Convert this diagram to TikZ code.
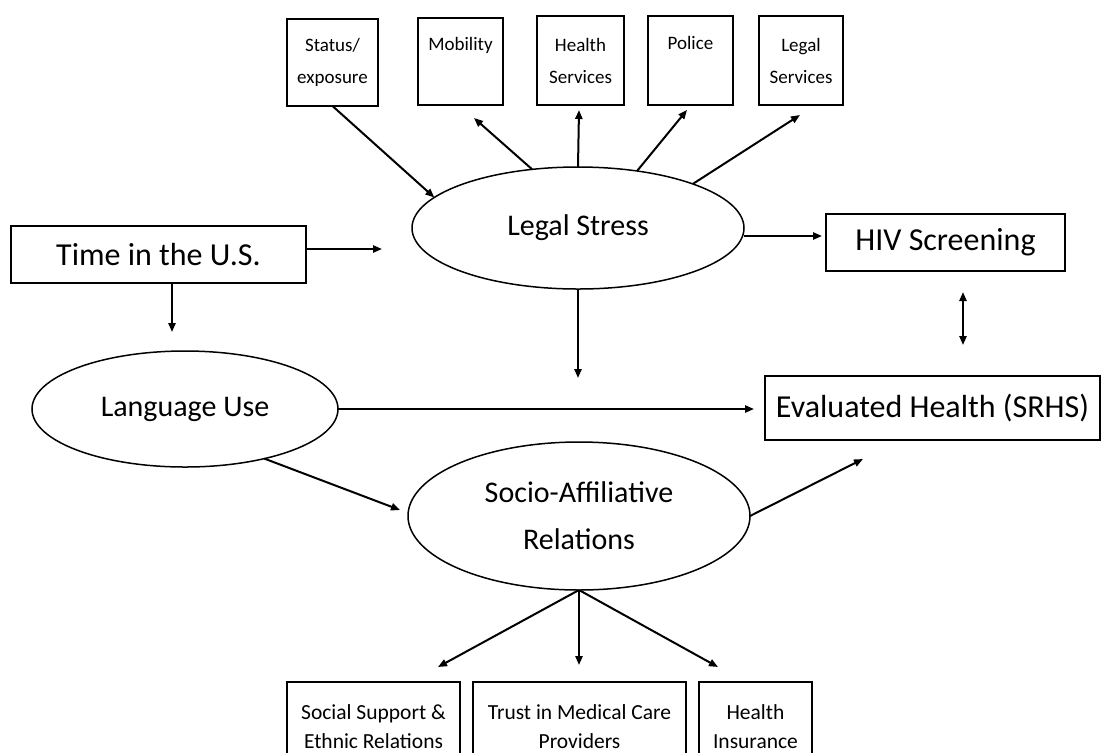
\documentclass[tikz,border=0pt]{standalone}
\usepackage{fontspec}
\setmainfont{Carlito}
\usetikzlibrary{shapes.geometric,arrows.meta,calc}
\begin{document}
\begin{tikzpicture}[x=0.5pt,y=-0.5pt,
  box/.style={draw,line width=1pt,inner sep=0pt,outer sep=0pt,align=center},
  topbox/.style={box,font=\fontsize{9.5}{16}\selectfont},
  basebox/.style={box,line width=0.7pt,font=\fontsize{10.75}{14.5}\selectfont},
  bigbox/.style={draw,line width=0.8pt,inner sep=0pt,outer sep=0pt,font=\fontsize{16}{19}\selectfont},
  oval/.style={draw,ellipse,line width=0.75pt,inner sep=0pt,outer sep=0pt,align=center,font=\fontsize{15}{23.5}\selectfont},
  tip/.style={Triangle[length=4.5pt,width=3.6pt]},
  arr/.style={line width=1pt,-{Triangle[length=4.5pt,width=3.6pt]}},
  dblarr/.style={line width=1pt,{Triangle[length=4.5pt,width=3.6pt]}-{Triangle[length=4.5pt,width=3.6pt]}},
]
\useasboundingbox (0,0) rectangle (1105,752);

% factors around legal stress
\node[topbox,minimum width=45.5pt,minimum height=43.5pt] (status) at (332.5,62.5) {Status/\\exposure};
\node[topbox,line width=0.6pt,minimum width=42.5pt,minimum height=43.5pt] (mob) at (460.5,61.5) {Mobility\\\phantom{y}};
\node[topbox,minimum width=43.5pt,minimum height=44.5pt] (hs) at (580.5,60.5) {Health\\Services};
\node[topbox,minimum width=42.5pt,minimum height=44.5pt] (police) at (690.5,60.5) {Police\\\phantom{y}};
\node[topbox,minimum width=42pt,minimum height=44.5pt] (legal) at (801,60.5) {Legal\\Services};

% main constructs
\node[oval,minimum width=166pt,minimum height=61pt] (lstress) at (578,228) {Legal Stress};
\node[bigbox,minimum width=147.5pt,minimum height=28.5pt] (time) at (158.5,254.5) {Time in the U.S.};
\node[bigbox,minimum width=119.5pt,minimum height=28.5pt] (hiv) at (945.5,242.5) {HIV Screening};
\node[oval,minimum width=153pt,minimum height=58pt] (lang) at (185,409) {Language Use};
\node[bigbox,minimum width=167.5pt,minimum height=32pt] (eval) at (932.5,408) {Evaluated Health (SRHS)};
\node[oval,minimum width=171pt,minimum height=74pt] (socio) at (579,516) {Socio-Affiliative\\Relations};

% factors below socio-affiliative relations
\node[basebox,minimum width=86.5pt,minimum height=45pt] (social) at (373.5,727) {Social Support \&\\Ethnic Relations};
\node[basebox,minimum width=106.5pt,minimum height=45pt] (trust) at (579.5,727) {Trust in Medical Care\\Providers};
\node[basebox,minimum width=56.5pt,minimum height=45pt] (ins) at (755.5,727) {Health\\Insurance};

% arrow end points
\coordinate (tmob) at (474,118);
\coordinate (ths) at (579,110);
\coordinate (tpol) at (687,110);
\coordinate (tleg) at (800,115);
\coordinate (ttime) at (382,249);
\coordinate (tlang) at (172,332);
\coordinate (thiv) at (822,236);
\coordinate (tsoc) at (578,378);
\coordinate (d1) at (963,292);
\coordinate (d2) at (963,345);
\coordinate (teval) at (754,409);
\coordinate (tsa) at (400,510);
\coordinate (tev2) at (863,459);
\coordinate (tb1) at (438,667);
\coordinate (tb2) at (579,665);
\coordinate (tb3) at (718,667);

% connectors
\draw[arr] (status.south) -- (lstress.168);
\draw[arr] (lstress.128) -- (tmob);
\draw[arr] (lstress.90) -- (ths);
\draw[arr] (lstress.44.6) -- (tpol);
\draw[arr] (lstress.21) -- (tleg);
\draw[arr] (time.east |- ttime) -- (ttime);
\draw[arr] (time.south -| tlang) -- (tlang);
\draw[arr] (lstress.east |- thiv) -- (thiv);
\draw[arr] (lstress.south) -- (tsoc);
\draw[dblarr] (d1) -- (d2);
\draw[arr] (lang.east) -- (teval);
\draw[arr] (lang.-32) -- (tsa);
\draw[arr] (socio.east) -- (tev2);
\draw[arr] (socio.south) -- (tb1);
\draw[arr] (socio.south) -- (tb2);
\draw[arr] (socio.south) -- (tb3);
\end{tikzpicture}
\end{document}
